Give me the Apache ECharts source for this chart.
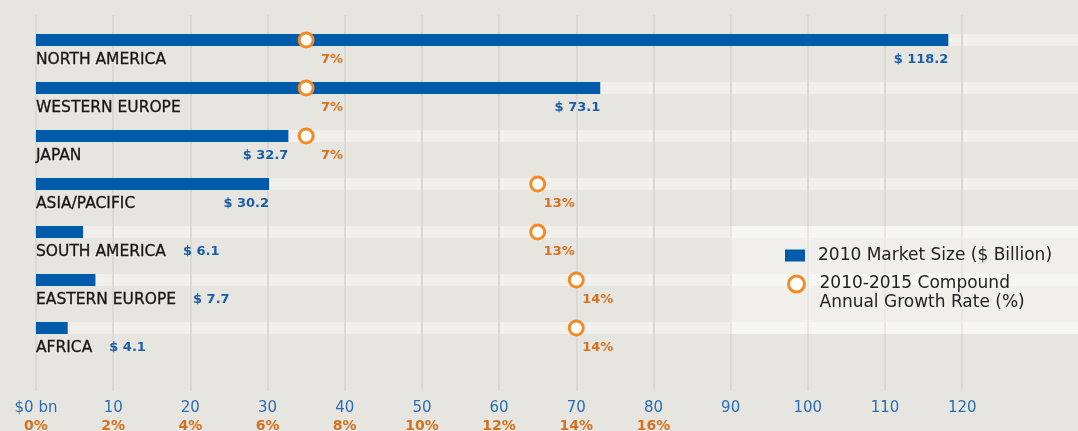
<!DOCTYPE html>
<html>
<head>
<meta charset="utf-8">
<script src="https://cdn.jsdelivr.net/npm/echarts@6/dist/echarts.min.js"></script>
<style>
html,body{margin:0;padding:0;background:#e7e5e0;}
#chart{width:1078px;height:431px;}
</style>
</head>
<body>
<div id="chart"></div>
<script>
// ---- data ----
const categories = ['NORTH AMERICA','WESTERN EUROPE','JAPAN','ASIA/PACIFIC','SOUTH AMERICA','EASTERN EUROPE','AFRICA'];
const marketSize = [118.2, 73.1, 32.7, 30.2, 6.1, 7.7, 4.1];      // 2010 market size, $ billion
const cagr = [7, 7, 7, 13, 13, 14, 14];                             // 2010-2015 CAGR, %
const sizeTickLabels = ['$0 bn','10','20','30','40','50','60','70','80','90','100','110','120'];
const cagrTickLabels = ['0%','2%','4%','6%','8%','10%','12%','14%','16%'];
const seriesNames = ['2010 Market Size ($ Billion)', '2010-2015 Compound Annual Growth Rate (%)'];

// ---- style / layout ----
const FONT = 'DejaVu Sans';
const BLUE = '#005baa', BLUE_TXT = '#1a5ea8', BLUE_AXIS = '#2a6db5';
const ORANGE = '#f28a25', ORANGE_TXT = '#d3711f';
const SIZE_MAX = 135;          // axis extends to the right edge of the picture
const SIZE_AXIS_MAX = 120;     // labelled / gridded part
const PCT_PER_UNIT = 0.2;      // 10 units of size axis == 2 %
const INLINE_THRESHOLD = 15;   // short bars: value printed after the region name
const fmtSize = v => '$ ' + v.toFixed(1);

const chart = echarts.init(document.getElementById('chart'), null, {renderer:'canvas'});

const option = {
  backgroundColor: '#e7e5e0',
  animation: false,
  grid: [
    {left: 36, right: 0, top: 16, height: 336, outerBoundsMode: 'none', containLabel: false},
    {left: 36, right: 1078 - 36 - (1078 - 36) * SIZE_AXIS_MAX / SIZE_MAX, top: 15, bottom: 40,
      outerBoundsMode: 'none', containLabel: false}
  ],
  xAxis: [
    {gridIndex: 0, type: 'value', min: 0, max: SIZE_MAX, show: false},
    {gridIndex: 0, type: 'value', min: 0, max: SIZE_MAX * PCT_PER_UNIT, show: false},
    {gridIndex: 1, type: 'value', min: 0, max: SIZE_AXIS_MAX, interval: 10, z: 1,
      axisLine: {show: false}, axisTick: {show: false},
      splitLine: {show: true, lineStyle: {color: '#dbd9d4', width: 2}},
      axisLabel: {
        margin: 7,
        formatter: function (v) {
          const i = Math.round(v / 10);
          const p = cagrTickLabels[i] !== undefined ? cagrTickLabels[i] : '';
          return '{a|' + sizeTickLabels[i] + '}\n{b|' + p + '}';
        },
        rich: {
          a: {fontFamily: FONT, fontSize: 15, color: BLUE_AXIS, lineHeight: 20},
          b: {fontFamily: FONT, fontSize: 14, fontWeight: 'bold', color: ORANGE_TXT, lineHeight: 16}
        }
      }
    }
  ],
  yAxis: [
    {gridIndex: 0, type: 'category', inverse: true, data: categories, show: false},
    {gridIndex: 1, type: 'value', min: 0, max: 1, show: false}
  ],
  graphic: [{
    type: 'rect', z: 2, silent: true,
    shape: {x: 730, y: 226, width: 348, height: 108},
    style: {fill: 'rgba(255,255,255,0.38)'}
  }],
  legend: [
    {
      data: [{name: seriesNames[0], icon: 'rect'}],
      left: 785, top: 247, padding: 0, itemWidth: 20, itemHeight: 12,
      selectedMode: false,
      textStyle: {fontFamily: FONT, fontSize: 17, color: '#222', padding: [0, 0, 0, 8]}
    },
    {
      data: [{name: seriesNames[1], icon: 'circle',
              itemStyle: {color: '#ffffff', borderColor: ORANGE, borderWidth: 3}}],
      left: 787, top: 255.5, padding: 0, itemWidth: 16, itemHeight: 16,
      selectedMode: false,
      formatter: n => '\n' + n.replace(' Annual', '\nAnnual'),
      textStyle: {fontFamily: FONT, fontSize: 17, color: '#222', lineHeight: 19, padding: [0, 0, 0, 10]}
    }
  ],
  series: [
    { // light row strips
      type: 'bar', xAxisIndex: 0, yAxisIndex: 0, z: 0, silent: true,
      barWidth: 12, barGap: '-100%',
      itemStyle: {color: '#f1f0ec'},
      data: categories.map(() => SIZE_MAX)
    },
    { // market size bars
      name: seriesNames[0], type: 'bar', xAxisIndex: 0, yAxisIndex: 0, z: 2,
      barWidth: 12, barGap: '-100%',
      itemStyle: {color: BLUE},
      data: marketSize.map(v => ({
        value: v,
        label: {
          show: v >= INLINE_THRESHOLD,
          position: 'insideRight', distance: 0, offset: [0, 20],
          formatter: () => fmtSize(v),
          fontFamily: FONT, fontSize: 13, fontWeight: 'bold', color: BLUE_TXT
        }
      }))
    },
    { // region names (plus value for short bars)
      type: 'bar', xAxisIndex: 0, yAxisIndex: 0, z: 3, silent: true,
      barWidth: 12, barGap: '-100%',
      itemStyle: {color: 'rgba(0,0,0,0)'},
      data: categories.map(() => SIZE_MAX),
      label: {
        show: true, position: 'insideLeft', distance: 0, offset: [0, 20],
        formatter: function (p) {
          const v = marketSize[p.dataIndex];
          let s = '{n|' + categories[p.dataIndex] + '}';
          if (v < INLINE_THRESHOLD) s += '{v|' + fmtSize(v) + '}';
          return s;
        },
        rich: {
          n: {fontFamily: FONT, fontSize: 15.5, color: '#161616', textBorderColor: '#161616', textBorderWidth: 0.3},
          v: {fontFamily: FONT, fontSize: 13, fontWeight: 'bold', color: BLUE_TXT, padding: [0, 0, 0, 17]}
        }
      }
    },
    { // CAGR circles
      name: seriesNames[1], type: 'scatter', xAxisIndex: 1, yAxisIndex: 0, z: 4,
      symbol: 'circle', symbolSize: 14,
      itemStyle: {color: '#ffffff', borderColor: ORANGE, borderWidth: 3, opacity: 1},
      label: {
        show: true, position: 'inside', align: 'right', offset: [37, 20],
        formatter: p => p.value[0] + '%',
        fontFamily: FONT, fontSize: 13, fontWeight: 'bold', color: ORANGE_TXT
      },
      data: cagr.map((c, i) => [c, categories[i]])
    }
  ]
};
chart.setOption(option);
</script>
</body>
</html>
